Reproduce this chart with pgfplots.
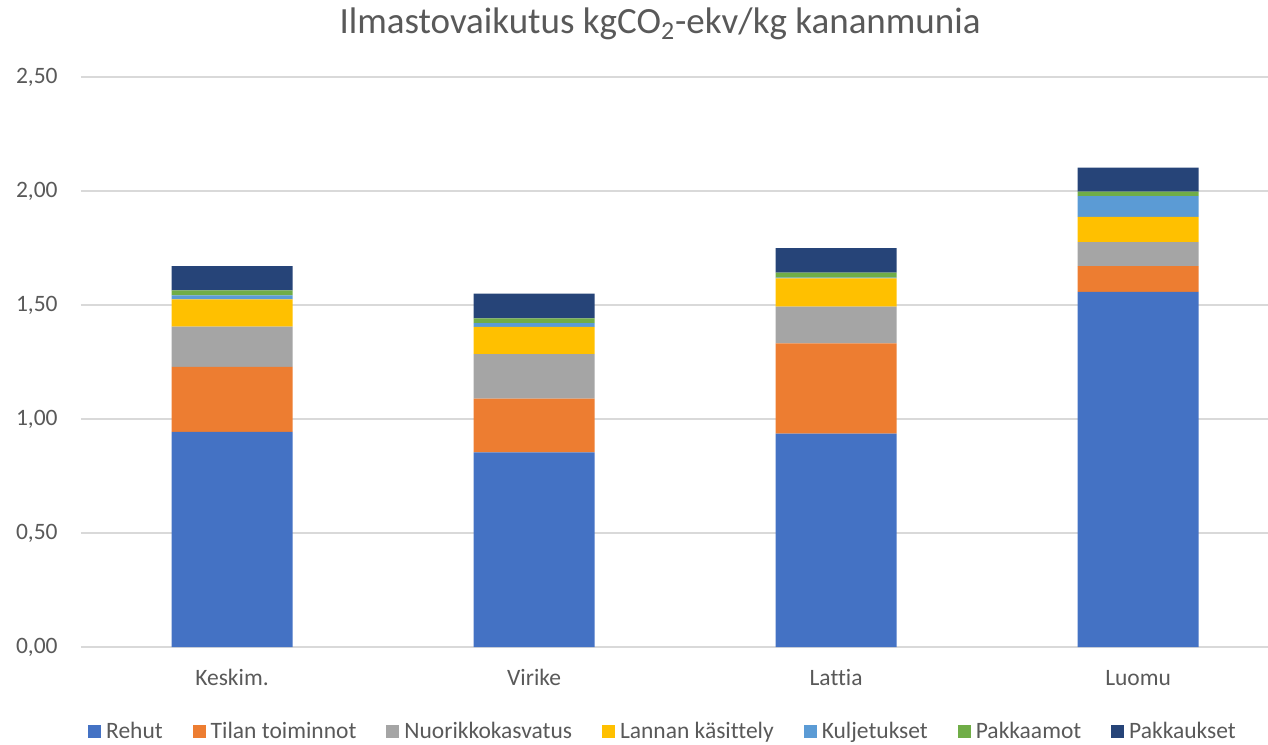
\documentclass[border=0pt]{standalone}
\usepackage{fontspec}
\setmainfont{Carlito}[Ligatures=CommonOff]
\usepackage{pgfplots}
\pgfplotsset{compat=1.18}
\definecolor{cRehut}{HTML}{4472C4}
\definecolor{cTilan}{HTML}{ED7D31}
\definecolor{cNuori}{HTML}{A5A5A5}
\definecolor{cLannan}{HTML}{FFC000}
\definecolor{cKulj}{HTML}{5B9BD5}
\definecolor{cPakkaamot}{HTML}{70AD47}
\definecolor{cPakkaukset}{HTML}{264478}
\definecolor{txtgray}{HTML}{595959}
\definecolor{gridgray}{HTML}{D9D9D9}
\begin{document}
\begin{tikzpicture}
\useasboundingbox (0,0) rectangle (634pt,372pt);
\node[anchor=base, text=txtgray, font=\fontsize{18.5}{22}\selectfont, inner sep=0pt] at (330pt,355pt) {Ilmastovaikutus kgCO\textsubscript{2}-ekv/kg kananmunia};
\begin{axis}[
  at={(40.5pt,48.5pt)}, anchor=south west,
  scale only axis, width=593.5pt, height=285pt,
  xmin=-0.5, xmax=3.43, ymin=0, ymax=2.5,
  ybar stacked, bar width=60.5pt,
  xtick={0,1,2,3}, xticklabels={Keskim.,Virike,Lattia,Luomu},
  ytick={0,0.5,1,1.5,2,2.5},
  /pgf/number format/fixed, /pgf/number format/fixed zerofill,
  /pgf/number format/precision=2, /pgf/number format/use comma,
  /pgf/number format/assume math mode=true,
  every tick label/.append style={font=\fontsize{11.75}{14}\selectfont, text=txtgray},
  yticklabel style={anchor=east, inner sep=0pt, xshift=-11.5pt},
  xticklabel style={anchor=base, inner sep=0pt, yshift=-19pt},
  axis line style={draw=none}, major tick length=0pt,
  ymajorgrids, grid style={gridgray, line width=0.75pt},
  legend columns=7,
  legend cell align=left,
  legend image code/.code={\fill[#1] (0pt,-3.25pt) rectangle (6.5pt,3.25pt); \path (7.5pt,0pt);},
  legend style={at={(0.4907,-0.148)}, anchor=center, draw=none, fill=none,
    font=\fontsize{11.75}{14}\selectfont, text=txtgray,
    /tikz/every even column/.append style={column sep=13.5pt},
    nodes={inner sep=1.5pt}},
]
\addplot[fill=cRehut, draw=none] coordinates {(0,0.944) (1,0.854) (2,0.936) (3,1.558)};
\addplot[fill=cTilan, draw=none] coordinates {(0,0.285) (1,0.235) (2,0.396) (3,0.112)};
\addplot[fill=cNuori, draw=none] coordinates {(0,0.176) (1,0.195) (2,0.161) (3,0.106)};
\addplot[fill=cLannan, draw=none] coordinates {(0,0.120) (1,0.120) (2,0.124) (3,0.110)};
\addplot[fill=cKulj, draw=none] coordinates {(0,0.017) (1,0.017) (2,0.003) (3,0.091)};
\addplot[fill=cPakkaamot, draw=none] coordinates {(0,0.022) (1,0.020) (2,0.022) (3,0.020)};
\addplot[fill=cPakkaukset, draw=none] coordinates {(0,0.107) (1,0.109) (2,0.107) (3,0.105)};
\legend{Rehut,Tilan toiminnot,Nuorikkokasvatus,Lannan käsittely,Kuljetukset,Pakkaamot,Pakkaukset}
\end{axis}
\end{tikzpicture}
\end{document}
